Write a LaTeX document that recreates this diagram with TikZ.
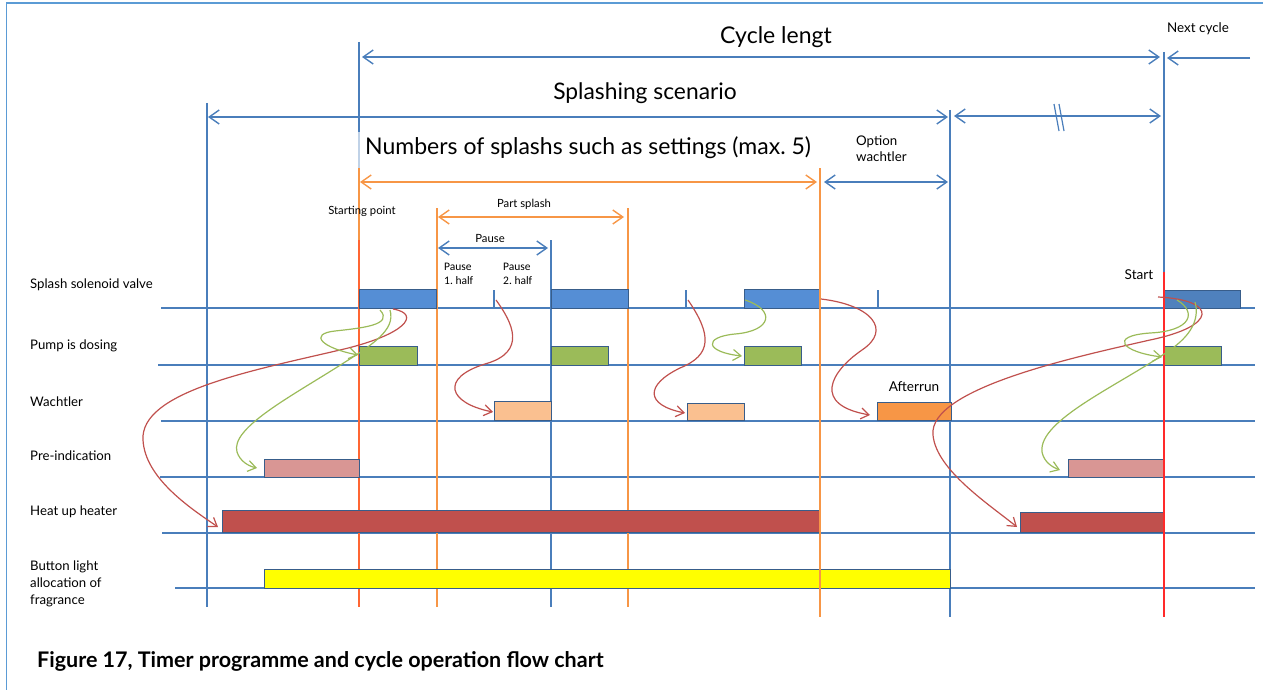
\documentclass[tikz,border=0pt]{standalone}
\usepackage{fontspec}
\setmainfont{Lato}
\newfontfamily\calfont{Carlito}
\usetikzlibrary{arrows.meta}
\definecolor{gridblue}{HTML}{4A7EBB}
\definecolor{frameblue}{HTML}{5B9BD5}
\definecolor{lineorange}{HTML}{F79646}
\definecolor{startred}{HTML}{FF6633}
\definecolor{brightred}{HTML}{FF2A2A}
\definecolor{curvered}{HTML}{C0504D}
\definecolor{curvegreen}{HTML}{9BBB59}
\definecolor{barline}{HTML}{385D8A}
\definecolor{sblue}{HTML}{558ED5}
\definecolor{dblue}{HTML}{4F81BD}
\definecolor{pgreen}{HTML}{9BBB59}
\definecolor{lorange}{HTML}{FAC090}
\definecolor{dorange}{HTML}{F79646}
\definecolor{pink}{HTML}{D99694}
\definecolor{hred}{HTML}{C0504D}
\definecolor{yel}{HTML}{FFFF00}
\newcommand\tbar[6]{\node[bar,fill=#2,minimum width=#5pt,minimum height=#6pt] (#1) at (#3,#4) {};}
\begin{document}
\begin{tikzpicture}[x=1pt,y=-1pt,
  bar/.style={draw=barline,line width=0.8pt,inner sep=0pt,outer sep=0pt,anchor=south west},
  base/.style={draw=gridblue,line width=1.4pt},
  vblue/.style={draw=gridblue,line width=1.4pt},
  vorange/.style={draw=lineorange,line width=1.4pt},
  dimb/.style={draw=gridblue,line width=1.4pt,{Straight Barb[length=10pt,width=14pt]}-{Straight Barb[length=10pt,width=14pt]}},
  dimo/.style={draw=lineorange,line width=1.4pt,{Straight Barb[length=10pt,width=14pt]}-{Straight Barb[length=10pt,width=14pt]}},
  cr/.style={draw=curvered,line width=1.2pt,-{Straight Barb[length=8pt,width=11pt]}},
  cg/.style={draw=curvegreen,line width=1.2pt,-{Straight Barb[length=8pt,width=11pt]}},
  rowlbl/.style={inner sep=0pt,anchor=west,font=\fontsize{13.2}{15}\selectfont,align=left},
  small/.style={inner sep=0pt,font=\fontsize{11.3}{13}\selectfont},
  mid/.style={inner sep=0pt,font=\fontsize{13.6}{15}\selectfont,align=left},
]
\useasboundingbox (0,0) rectangle (1263,690);
% frame
\draw[frameblue,line width=1.2pt] (6.5,690) -- (6.5,3) -- (1263,3);

% baselines
\draw[base] (161,308) -- (1255,308);
\draw[base] (158,365) -- (1255,365);
\draw[base] (161,421) -- (1255,421);
\draw[base] (160,477) -- (1255,477);
\draw[base] (162,533) -- (1255,533);
\draw[base] (175,588) -- (1255,588);

% vertical guide lines
\draw[vblue] (207,103) -- (207,607);
\draw[vblue] (359,42) -- (359,132);
\draw[draw=gridblue!35,line width=1.2pt] (359,132) -- (359,168);
\draw[vorange] (359,168) -- (359,240);
\draw[draw=startred,line width=1.6pt] (359,240) -- (359,607);
\draw[vorange] (437,208) -- (437,607);
\draw[vblue] (551,240) -- (551,607);
\draw[vorange] (628,208) -- (628,607);
\draw[vblue] (950,110) -- (950,617);
\draw[vblue] (1164,52) -- (1164,272);

% ticks on valve row
\draw[vblue,line width=1.2pt] (494,290) -- (494,308);
\draw[vblue,line width=1.2pt] (686,290) -- (686,308);
\draw[vblue,line width=1.2pt] (878,290) -- (878,308);

% bars
\tbar{sv1}{sblue}{359}{308}{77}{19}
\tbar{sv2}{sblue}{551}{308}{77}{19}
\tbar{sv3}{sblue}{744}{308}{76}{19}
\tbar{sv4}{dblue}{1164}{308}{76}{18}
\tbar{pd1}{pgreen}{359}{365}{58}{19}
\tbar{pd2}{pgreen}{551}{365}{57}{19}
\tbar{pd3}{pgreen}{744}{365}{57}{19}
\tbar{pd4}{pgreen}{1164}{365}{57}{19}
\tbar{wa1}{lorange}{494}{420}{57}{19}
\tbar{wa2}{lorange}{687}{420}{57}{17}
\tbar{wa3}{dorange}{877}{420}{74}{18}
\tbar{pi1}{pink}{264}{477}{95}{18}
\tbar{pi2}{pink}{1068}{477}{96}{18}
\tbar{hh1}{hred}{222}{532}{598}{22}
\tbar{hh2}{hred}{1020}{532}{144}{20}
\tbar{bl1}{yel}{264}{588}{686}{19}

% lines drawn over bars
\draw[vorange] (820,168) -- (820,617);
\draw[draw=brightred,line width=2pt] (1164,272) -- (1164,617);

% dimension arrows
\coordinate (cl1) at (362,57); \coordinate (cl2) at (1160,57);
\draw[dimb] (cl1) -- (cl2);
\coordinate (nc1) at (1250,58); \coordinate (nc2) at (1167,58);
\draw[draw=gridblue,line width=1.4pt,-{Straight Barb[length=10pt,width=14pt]}] (nc1) -- (nc2);
\coordinate (ss1) at (208,117); \coordinate (ss2) at (948,117);
\draw[dimb] (ss1) -- (ss2);
\coordinate (rw1) at (954,116); \coordinate (rw2) at (1161,116);
\draw[dimb] (rw1) -- (rw2);
\draw[gridblue,line width=1.2pt] (1054,104) -- (1059,131);
\draw[gridblue,line width=1.2pt] (1059,104) -- (1064,131);
\coordinate (ns1) at (360,182); \coordinate (ns2) at (817,182);
\draw[dimo] (ns1) -- (ns2);
\coordinate (ow1) at (824,182); \coordinate (ow2) at (948,182);
\draw[dimb] (ow1) -- (ow2);
\coordinate (ps1) at (438,217); \coordinate (ps2) at (624,217);
\draw[dimo] (ps1) -- (ps2);
\coordinate (pa1) at (438,248); \coordinate (pa2) at (548,248);
\draw[dimb] (pa1) -- (pa2);

% texts
\node[inner sep=0pt,font=\fontsize{23}{27}\selectfont] (tcl) at (776,37) {Cycle lengt};
\node[inner sep=0pt,font=\fontsize{13.4}{15}\selectfont] (tnc) at (1198,29) {Next cycle};
\node[inner sep=0pt,font=\fontsize{22.8}{26}\selectfont] (tss) at (645,93) {Splashing scenario};
\node[inner sep=0pt,font=\fontsize{23}{27}\selectfont,anchor=west] (tns) at (365,148) {Numbers of splashs such as settings (max.\ 5)};
\node[mid,anchor=west,font=\fontsize{13.3}{16}\selectfont] (tow) at (856,149) {Option\\wachtler};
\node[small] (tsp) at (362,211) {Starting point};
\node[small] (tps) at (524,204) {Part splash};
\node[small] (tpa) at (490,238) {Pause};
\node[inner sep=0pt,anchor=west,align=left,font=\calfont\fontsize{11.5}{14}\selectfont] (tp1) at (444,274) {Pause\\1.\ half};
\node[inner sep=0pt,anchor=west,align=left,font=\calfont\fontsize{11.5}{14}\selectfont] (tp2) at (503,274) {Pause\\2.\ half};
\node[mid] (tar) at (914,387) {Afterrun};
\node[mid] (tst) at (1139,275) {Start};

\node[rowlbl] (r1) at (30,285) {Splash solenoid valve};
\node[rowlbl] (r2) at (30,346) {Pump is dosing};
\node[rowlbl] (r3) at (30,402) {Wachtler};
\node[rowlbl] (r4) at (30,456) {Pre-indication};
\node[rowlbl] (r5) at (30,512) {Heat up heater};
\node[rowlbl,font=\fontsize{13.2}{17}\selectfont] (r6) at (30,584) {Button light\\allocation of\\fragrance};

\node[inner sep=0pt,anchor=west,font=\bfseries\fontsize{21.5}{25}\selectfont] (cap) at (37,661) {Figure 17, Timer programme and cycle operation flow chart};

% curved connectors
\coordinate (a1) at (393,309); \coordinate (e1) at (218,527);
\draw[cr] (a1) .. controls (422,314) and (405,335) .. (340,350)
  .. controls (250,371) and (140,392) .. (143,440)
  .. controls (145,478) and (190,508) .. (e1);
\coordinate (a2) at (496,300); \coordinate (e2) at (493,412);
\draw[cr] (a2) .. controls (512,322) and (528,352) .. (485,364)
  .. controls (440,378) and (448,403) .. (e2);
\coordinate (a3) at (688,300); \coordinate (e3) at (685,413);
\draw[cr] (a3) .. controls (712,335) and (712,355) .. (680,368)
  .. controls (645,385) and (645,405) .. (e3);
\coordinate (a4) at (821,299); \coordinate (e4) at (870,415);
\draw[cr] (a4) .. controls (872,305) and (892,330) .. (862,350)
  .. controls (830,372) and (812,405) .. (e4);
\coordinate (a5) at (1158,297); \coordinate (e5) at (1017,527);
\draw[cr] (a5) .. controls (1218,300) and (1218,326) .. (1150,340)
  .. controls (1080,356) and (928,388) .. (933,435)
  .. controls (936,470) and (990,505) .. (e5);

\coordinate (g1) at (380,310); \coordinate (h1) at (358,355);
\draw[cg] (g1) .. controls (394,325) and (362,328) .. (335,331)
  .. controls (308,334) and (322,348) .. (h1);
\coordinate (g2) at (390,310); \coordinate (h2) at (257,468);
\draw[cg] (g2) .. controls (396,330) and (372,345) .. (342,364)
  .. controls (292,396) and (230,428) .. (237,452)
  .. controls (240,461) and (248,466) .. (h2);
\coordinate (g3) at (745,300); \coordinate (h3) at (742,356);
\draw[cg] (g3) .. controls (776,310) and (772,331) .. (735,334)
  .. controls (703,337) and (705,352) .. (h3);
\coordinate (g4) at (1177,300); \coordinate (h4) at (1162,357);
\draw[cg] (g4) .. controls (1197,312) and (1192,331) .. (1150,333)
  .. controls (1108,336) and (1122,352) .. (h4);
\coordinate (g5) at (1195,302); \coordinate (h5) at (1060,470);
\draw[cg] (g5) .. controls (1200,320) and (1190,336) .. (1170,350)
  .. controls (1120,385) and (1038,420) .. (1042,452)
  .. controls (1044,462) and (1052,467) .. (h5);
\end{tikzpicture}
\end{document}
